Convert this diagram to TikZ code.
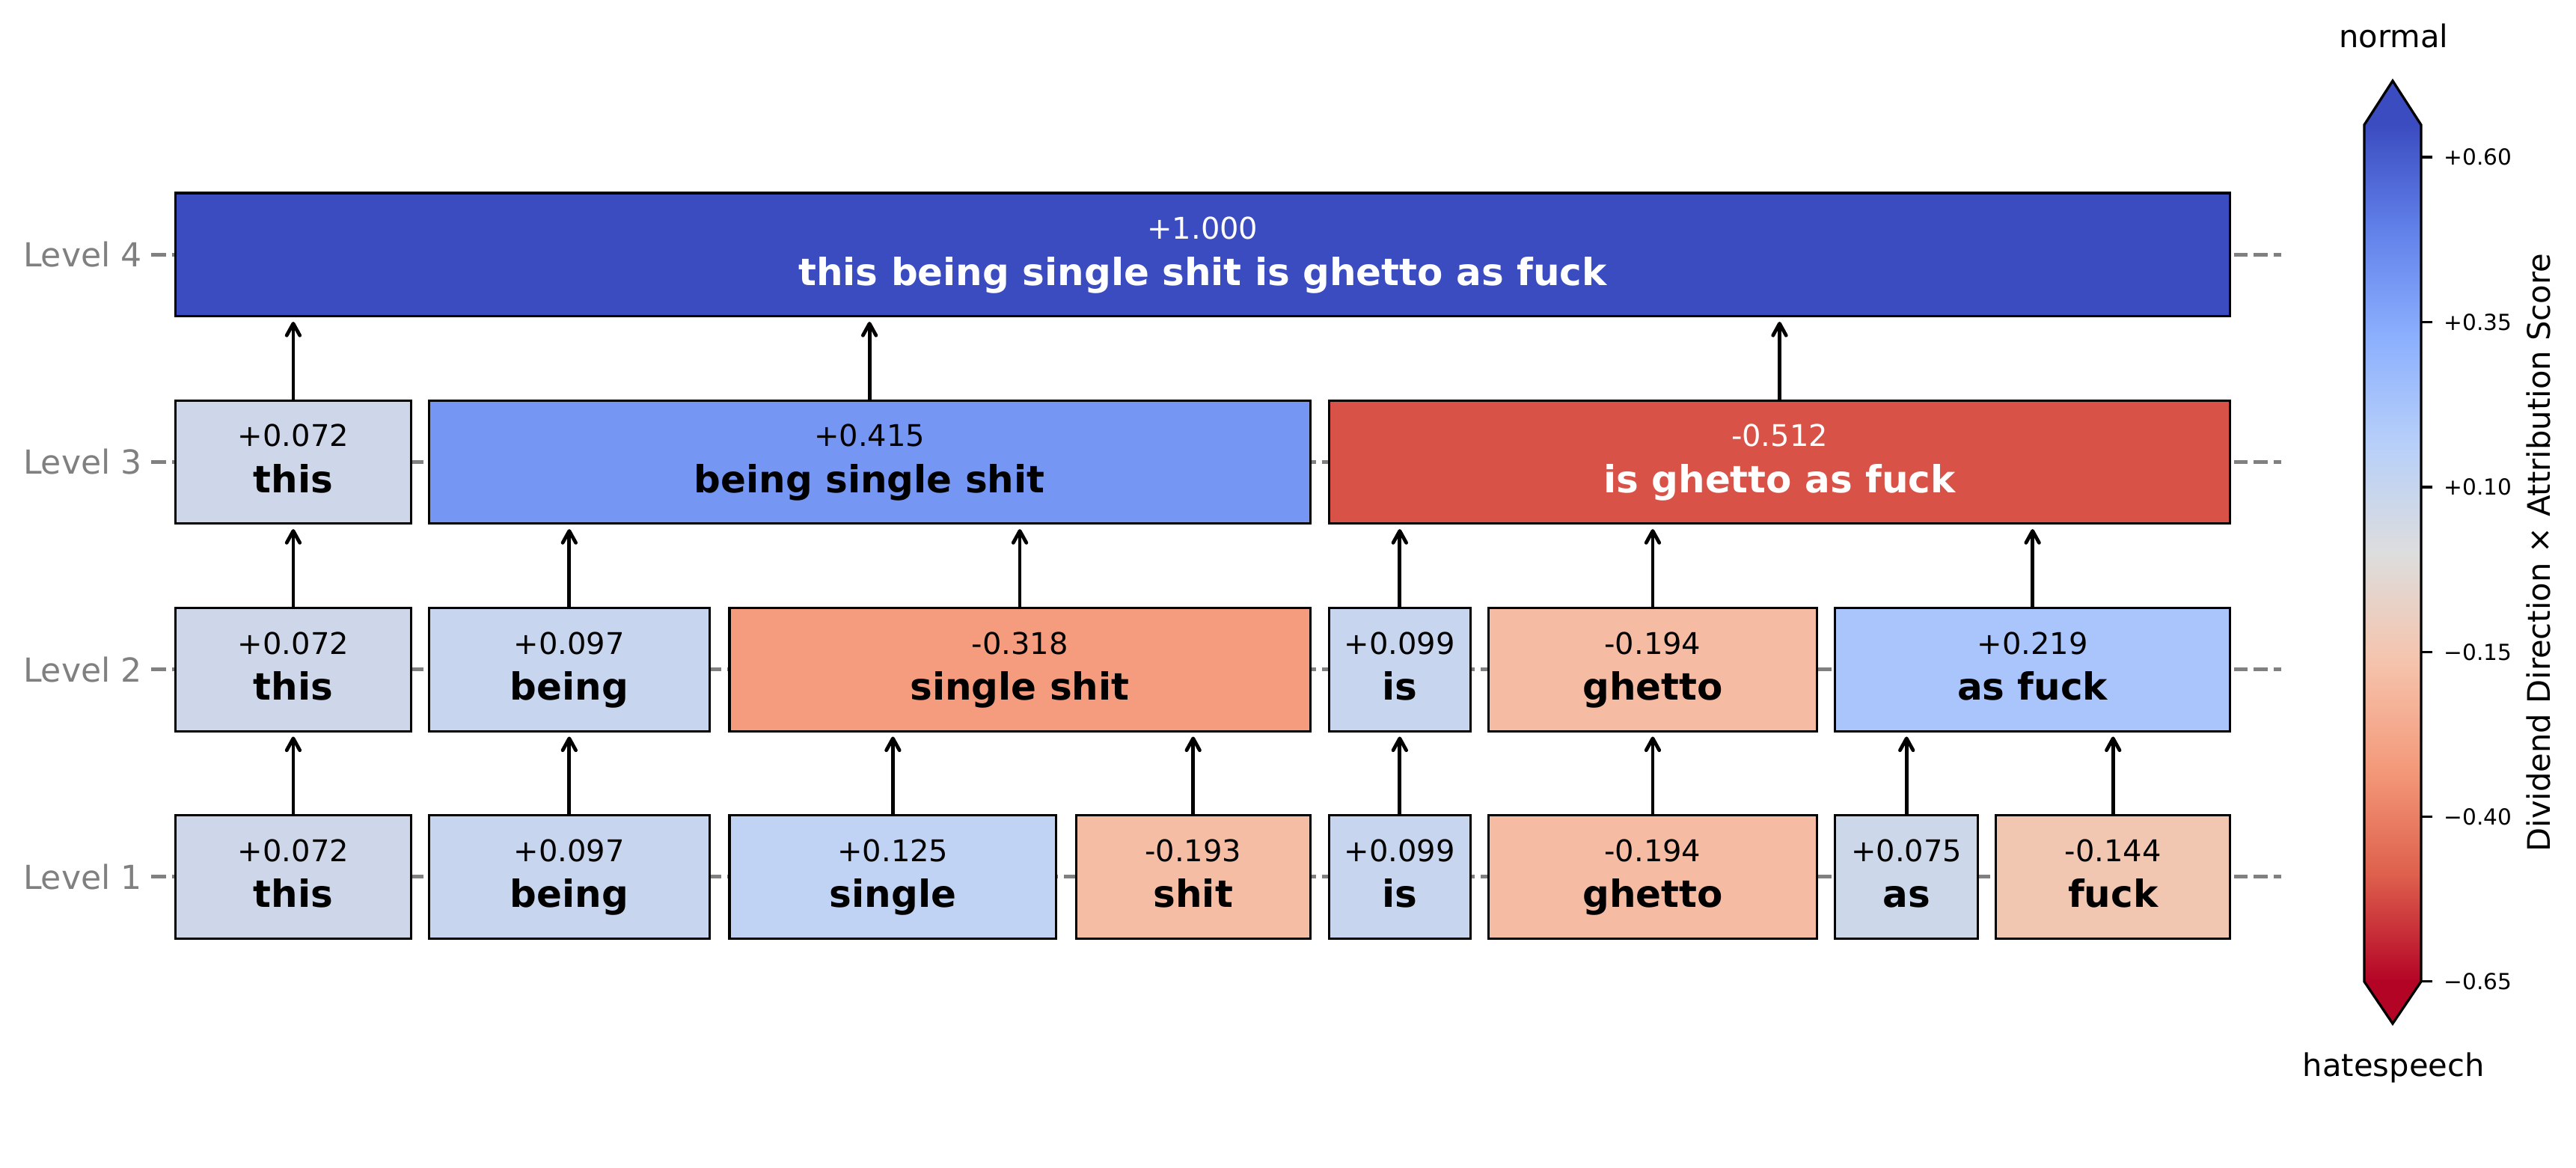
\documentclass[tikz,border=0pt]{standalone}
\usepackage{fontspec}
\setmainfont{DejaVu Sans}
\usetikzlibrary{arrows.meta,calc}
\definecolor{lvlgray}{RGB}{128,128,128}
\definecolor{cw0}{RGB}{59,76,192}
\definecolor{cw1}{RGB}{98,130,234}
\definecolor{cw2}{RGB}{141,176,254}
\definecolor{cw3}{RGB}{184,208,249}
\definecolor{cw4}{RGB}{221,221,221}
\definecolor{cw5}{RGB}{245,196,173}
\definecolor{cw6}{RGB}{244,154,123}
\definecolor{cw7}{RGB}{222,96,77}
\definecolor{cw8}{RGB}{180,4,38}
\definecolor{cthis}{RGB}{205,215,233}
\definecolor{cbeing}{RGB}{199,213,238}
\definecolor{csingle}{RGB}{193,211,245}
\definecolor{cshit}{RGB}{245,189,164}
\definecolor{cis}{RGB}{199,213,238}
\definecolor{cghetto}{RGB}{245,188,163}
\definecolor{cas}{RGB}{204,215,234}
\definecolor{cfuck}{RGB}{242,199,178}
\definecolor{csshit}{RGB}{244,156,125}
\definecolor{casfuck}{RGB}{169,197,251}
\definecolor{cbss}{RGB}{117,151,243}
\definecolor{cigaf}{RGB}{216,82,71}
\pgfdeclareverticalshading{cwarm}{100bp}{color(0bp)=(cw8); color(25bp)=(cw8); color(31.25bp)=(cw7); color(37.5bp)=(cw6); color(43.75bp)=(cw5); color(50bp)=(cw4); color(56.25bp)=(cw3); color(62.5bp)=(cw2); color(68.75bp)=(cw1); color(75bp)=(cw0); color(100bp)=(cw0)}
\tikzset{>={Straight Barb[length=3.8pt,width=4.2pt,round]}}
\tikzset{
  tok/.style={draw=black, line width=0.75pt, inner sep=0pt, minimum height=39.5pt, align=center, font=\fontsize{9.6}{14.8}\selectfont},
  bw/.style={minimum width=#1*0.527pt},
  lvltick/.style={lvlgray, line width=1.2pt},
  lvlline/.style={lvlgray, line width=1.2pt, dash pattern=on 4.44pt off 1.92pt, dash phase=4.44pt},
  lvllabel/.style={anchor=east, inner sep=0pt, text=lvlgray, font=\fontsize{10.6}{13}\selectfont},
  uparrow/.style={->, line width=1.15pt, shorten >=1.4pt},
  cbtick/.style={line width=0.8pt},
  cbnum/.style={anchor=west, inner sep=0pt, font=\fontsize{7.1}{9}\selectfont},
}
\newcommand{\tokscore}[2]{\rule{0pt}{7.9pt}#1\\{\fontsize{12}{14.8}\selectfont\bfseries #2}\rule[-3pt]{0pt}{3pt}}

\begin{document}
\begin{tikzpicture}[x=0.527pt, y=-0.527pt]
    \useasboundingbox (0,0) rectangle (1568,710.9);
    % level axis
    \draw [lvlline] (101,155) -- (1388.6,155);
    \draw [lvlline] (101,281.2) -- (1388.6,281.2);
    \draw [lvlline] (101,407.5) -- (1388.6,407.5);
    \draw [lvlline] (101,533.7) -- (1388.6,533.7);
    \draw [lvltick] (91.9,155) -- (101,155);
    \draw [lvltick] (91.9,281.2) -- (101,281.2);
    \draw [lvltick] (91.9,407.5) -- (101,407.5);
    \draw [lvltick] (91.9,533.7) -- (101,533.7);
    \node [lvllabel] (lvl4) at (86.8,155) {Level 4};
    \node [lvllabel] (lvl3) at (86.8,281.2) {Level 3};
    \node [lvllabel] (lvl2) at (86.8,407.5) {Level 2};
    \node [lvllabel] (lvl1) at (86.8,533.7) {Level 1};

    % level 1
    \node [tok, bw=143.6, fill=cthis] (l1this) at (178.5,533.7) {\tokscore{+0.072}{this}};
    \node [tok, bw=171, fill=cbeing] (l1being) at (346.5,533.7) {\tokscore{+0.097}{being}};
    \node [tok, bw=199, fill=csingle] (l1single) at (543.5,533.7) {\tokscore{+0.125}{single}};
    \node [tok, bw=142.5, fill=cshit] (l1shit) at (726.25,533.7) {\tokscore{-0.193}{shit}};
    \node [tok, bw=86, fill=cis] (l1is) at (852,533.7) {\tokscore{+0.099}{is}};
    \node [tok, bw=200, fill=cghetto] (l1ghetto) at (1006,533.7) {\tokscore{-0.194}{ghetto}};
    \node [tok, bw=87, fill=cas] (l1as) at (1160.5,533.7) {\tokscore{+0.075}{as}};
    \node [tok, bw=142.4, fill=cfuck] (l1fuck) at (1286.2,533.7) {\tokscore{-0.144}{fuck}};

    % level 2
    \node [tok, bw=143.6, fill=cthis] (l2this) at (178.5,407.5) {\tokscore{+0.072}{this}};
    \node [tok, bw=171, fill=cbeing] (l2being) at (346.5,407.5) {\tokscore{+0.097}{being}};
    \node [tok, bw=353.5, fill=csshit] (l2sshit) at (620.75,407.5) {\tokscore{-0.318}{single shit}};
    \node [tok, bw=86, fill=cis] (l2is) at (852,407.5) {\tokscore{+0.099}{is}};
    \node [tok, bw=200, fill=cghetto] (l2ghetto) at (1006,407.5) {\tokscore{-0.194}{ghetto}};
    \node [tok, bw=240.4, fill=casfuck] (l2asfuck) at (1237.2,407.5) {\tokscore{+0.219}{as fuck}};

    % level 3
    \node [tok, bw=143.6, fill=cthis] (l3this) at (178.5,281.2) {\tokscore{+0.072}{this}};
    \node [tok, bw=536.5, fill=cbss] (l3bss) at (529.25,281.2) {\tokscore{+0.415}{being single shit}};
    \node [tok, bw=548.4, fill=cigaf, text=white] (l3igaf) at (1083.2,281.2) {\tokscore{-0.512}{is ghetto as fuck}};

    % level 4
    \node [tok, bw=1250.7, fill=cw0, text=white] (l4) at (732.05,155) {\tokscore{+1.000}{this being single shit is ghetto as fuck}};

    % merges
    \draw [uparrow] (l1this.north) -- (l1this.north |- l2this.south);
    \draw [uparrow] (l1being.north) -- (l1being.north |- l2being.south);
    \draw [uparrow] (l1single.north) -- (l1single.north |- l2sshit.south);
    \draw [uparrow] (l1shit.north) -- (l1shit.north |- l2sshit.south);
    \draw [uparrow] (l1is.north) -- (l1is.north |- l2is.south);
    \draw [uparrow] (l1ghetto.north) -- (l1ghetto.north |- l2ghetto.south);
    \draw [uparrow] (l1as.north) -- (l1as.north |- l2asfuck.south);
    \draw [uparrow] (l1fuck.north) -- (l1fuck.north |- l2asfuck.south);
    \draw [uparrow] (l2this.north) -- (l2this.north |- l3this.south);
    \draw [uparrow] (l2being.north) -- (l2being.north |- l3bss.south);
    \draw [uparrow] (l2sshit.north) -- (l2sshit.north |- l3bss.south);
    \draw [uparrow] (l2is.north) -- (l2is.north |- l3igaf.south);
    \draw [uparrow] (l2ghetto.north) -- (l2ghetto.north |- l3igaf.south);
    \draw [uparrow] (l2asfuck.north) -- (l2asfuck.north |- l3igaf.south);
    \draw [uparrow] (l3this.north) -- (l3this.north |- l4.south);
    \draw [uparrow] (l3bss.north) -- (l3bss.north |- l4.south);
    \draw [uparrow] (l3igaf.north) -- (l3igaf.north |- l4.south);

    % colour bar
    \shade [shading=cwarm] (1439.1,76) rectangle (1473.7,597.4);
    \fill [cw0] (1439.1,76.5) -- (1456.4,49.2) -- (1473.7,76.5) -- cycle;
    \fill [cw8] (1439.1,597) -- (1456.4,623) -- (1473.7,597) -- cycle;
    \draw [line width=0.8pt] (1439.1,76) -- (1456.4,49.2) -- (1473.7,76) -- (1473.7,597.4) -- (1456.4,623) -- (1439.1,597.4) -- cycle;
    \draw [cbtick] (1473.7,95.6) -- (1480.6,95.6) node [cbnum, xshift=3.4pt] {+0.60};
    \draw [cbtick] (1473.7,196) -- (1480.6,196) node [cbnum, xshift=3.4pt] {+0.35};
    \draw [cbtick] (1473.7,296.4) -- (1480.6,296.4) node [cbnum, xshift=3.4pt] {+0.10};
    \draw [cbtick] (1473.7,396.8) -- (1480.6,396.8) node [cbnum, xshift=3.4pt] {−0.15};
    \draw [cbtick] (1473.7,497.2) -- (1480.6,497.2) node [cbnum, xshift=3.4pt] {−0.40};
    \draw [cbtick] (1473.7,597.4) -- (1480.6,597.4) node [cbnum, xshift=3.4pt] {−0.65};
    \node [rotate=90, font=\fontsize{10}{12}\selectfont] (cblabel) at (1545,336.5) {Dividend Direction × Attribution Score};
    \node [font=\fontsize{10}{12}\selectfont] (cbtop) at (1457,22) {normal};
    \node [font=\fontsize{10}{12}\selectfont] (cbbottom) at (1457,650) {hatespeech};
\end{tikzpicture}
\end{document}
